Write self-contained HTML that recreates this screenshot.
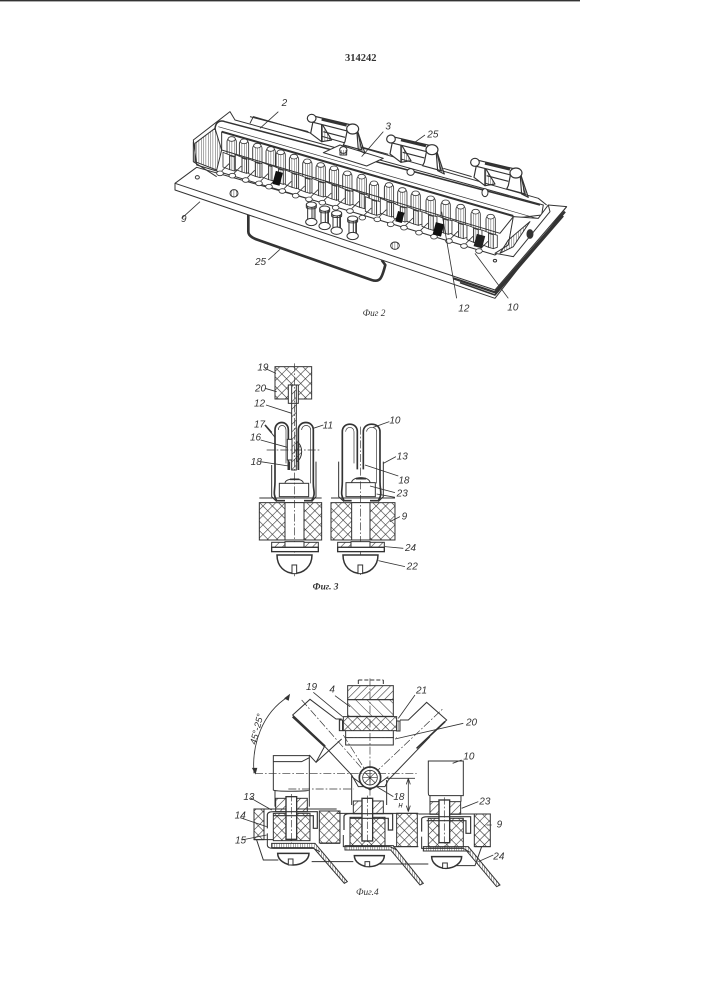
<!DOCTYPE html>
<html><head><meta charset="utf-8"><style>
html,body{margin:0;padding:0;background:#fff;width:707px;height:1000px;overflow:hidden}
svg{display:block;filter:blur(.3px)}
text{font-family:"Liberation Sans",sans-serif;font-style:italic;fill:#333;font-size:30px}
</style></head><body>
<svg width="707" height="1000" viewBox="0 0 707 1000" xmlns="http://www.w3.org/2000/svg">
<defs>
<pattern id="x" width="20" height="20" patternUnits="userSpaceOnUse" patternTransform="rotate(45)"><path d="M0 0H20M0 0V20" stroke="#333" stroke-width="3.5" fill="none"/></pattern>
<pattern id="h" width="16" height="16" patternUnits="userSpaceOnUse" patternTransform="rotate(45)"><path d="M0 0V16" stroke="#333" stroke-width="3.5"/></pattern>
<pattern id="h2" width="24" height="24" patternUnits="userSpaceOnUse" patternTransform="rotate(-45)"><path d="M0 0V24" stroke="#333" stroke-width="3"/></pattern>
<pattern id="d" width="7" height="7" patternUnits="userSpaceOnUse"><path d="M0 0V7" stroke="#333" stroke-width="2.5"/></pattern>
<g id="u" fill="none" stroke="#333" stroke-width="2.5">
<path d="M-14 0C-14-16 14-16 14 0L14 48L-14 40Z" fill="url(#d)"/>
<ellipse cx="0" cy="-8" rx="11" ry="7" fill="#fff"/>
<path d="M-26 32L-6 40L-6 84L-26 76Z" fill="#fff"/>
<path d="M-6 40L8 44L8 88L-6 84Z" fill="url(#d)"/>
<path d="M8 44L20 48V84L8 88Z" fill="#fff"/>
<ellipse cx="-35" cy="95" rx="10" ry="7" fill="#fff"/>
<path d="M-30 88L-8 66"/>
</g>
<g id="p" fill="#fff" stroke="#333" stroke-width="3">
<path d="M-11 -4V46H11V-4Z" fill="#fff"/>
<path d="M2 0V46H11V0Z" fill="url(#d)"/>
<ellipse cx="0" cy="46" rx="17" ry="11"/>
<ellipse cx="0" cy="-6" rx="15" ry="8"/>
<path d="M-15 -6V2C-15 8 15 8 15 2V-6" fill="none"/>
</g>
<g id="h4" stroke="#333" stroke-width="4" fill="#fff">
<rect x="0" y="0" width="32" height="128"/>
<path d="M16-8V140" stroke-dasharray="22 6 5 6" stroke-width="2" fill="none"/>
</g>
<g id="hd" fill="none" stroke="#333" stroke-width="3.5" stroke-linejoin="round">
<path d="M392 130L400 90L425 95L425 155Z" fill="#fff"/><path d="M425 100L425 155L455 150Z" fill="url(#d)"/>
<path d="M495 155L505 105L530 110L545 180L490 165Z" fill="#fff"/><path d="M530 115L555 190L535 180Z" fill="url(#d)"/>
<path d="M400 78L515 105L510 125L395 96Z" fill="#fff"/><path d="M425 88L500 106" stroke-width="8"/>
<ellipse cx="395" cy="85" rx="13" ry="12" fill="#fff"/><ellipse cx="518" cy="117" rx="18" ry="15" fill="#fff"/><path d="M430 125L495 142"/>
</g>
</defs>
<rect width="707" height="1000" fill="#fff"/>
<rect x="0" y="0" width="580" height="1.4" fill="#333"/>
<text x="345" y="61" style="font-family:'Liberation Serif',serif;font-style:normal;font-weight:bold;font-size:10.5px">314242</text>

<!-- FIG 2 -->
<g transform="translate(180 90) scale(.3333)" fill="none" stroke="#333" stroke-width="3" stroke-linejoin="round">
<path d="M205 375V425C205 440 225 447 240 452L575 570C600 578 606 565 616 525L605 510" stroke-width="8"/>
<path d="M-15 280L50 232L1000 500L1105 345L1160 350L945 625L-15 300Z" fill="#fff"/>
<path d="M-15 280L945 600L1160 350" />
<path d="M820 565L945 607L1155 365" stroke-width="7"/>
<path d="M840 578L945 615L1150 378" stroke-width="5"/>
<path d="M40 150L150 65L165 90L1090 345L1085 375L1000 385L985 465L945 495L50 225Z" fill="#fff"/>
<path d="M210 100L220 80L1075 325L1100 345" fill="#fff"/>
<path d="M40 155V215L110 260" />
<path d="M45 160L105 115L125 180L110 240L45 215Z" fill="url(#d)"/>
<path d="M125 125L125 180L960 430L1000 380L1020 385L985 465L945 495" />
<path d="M125 125L1000 378" stroke-width="6"/>
<path d="M105 120C105 95 120 90 135 95L1080 345" stroke-width="4.5"/>
<path d="M115 110L1070 385" stroke-width="2"/>
<use href="#u" x="155" y="155"/><use href="#u" x="192" y="162"/><use href="#u" x="232" y="175"/><use href="#u" x="272" y="185"/><use href="#u" x="302" y="195"/><use href="#u" x="342" y="208"/><use href="#u" x="382" y="222"/><use href="#u" x="422" y="233"/><use href="#u" x="462" y="243"/><use href="#u" x="502" y="258"/><use href="#u" x="545" y="268"/><use href="#u" x="582" y="288"/><use href="#u" x="627" y="293"/><use href="#u" x="667" y="308"/><use href="#u" x="707" y="318"/><use href="#u" x="752" y="333"/><use href="#u" x="797" y="345"/><use href="#u" x="842" y="358"/><use href="#u" x="887" y="373"/><use href="#u" x="932" y="388"/>
<rect x="282" y="245" width="22" height="40" fill="#111" stroke="none" transform="rotate(15 293 265)"/>
<rect x="650" y="365" width="20" height="32" fill="#111" stroke="none" transform="rotate(15 660 380)"/>
<rect x="762" y="400" width="26" height="38" fill="#111" stroke="none" transform="rotate(15 778 420)"/>
<rect x="885" y="435" width="26" height="38" fill="#222" stroke="none" transform="rotate(15 900 455)"/>
<path d="M1000 380L1075 385L1105 345L1110 365L1000 500L945 490L985 465Z" fill="#fff"/>
<path d="M985 450L1050 395L1000 470L960 490Z" fill="url(#d)"/>
<ellipse cx="1050" cy="432" rx="9" ry="13" fill="#333"/>
<ellipse cx="52" cy="262" rx="6" ry="5"/><ellipse cx="945" cy="512" rx="5" ry="4"/>
<ellipse cx="162" cy="310" rx="12" ry="11" fill="url(#d)"/>
<ellipse cx="645" cy="467" rx="13" ry="11" fill="url(#d)"/>
<use href="#p" x="394" y="350"/><use href="#p" x="434" y="362"/><use href="#p" x="470" y="376"/><use href="#p" x="518" y="392"/>
<path d="M430 188L480 165L610 205L560 228Z" fill="#fff"/>
<ellipse cx="490" cy="180" rx="11" ry="10" fill="#fff"/><path d="M480 180V195H500V180" fill="url(#d)"/>
<ellipse cx="692" cy="246" rx="11" ry="10" fill="#fff"/>
<ellipse cx="915" cy="308" rx="9" ry="12" fill="#fff"/>
<path d="M210 80L385 125M540 170L625 193M790 235L875 260"/>
<use href="#hd"/>
<use href="#hd" x="238" y="62"/>
<use href="#hd" x="490" y="132"/>
<g stroke-width="2.5"><path d="M295 65L240 115M610 125L545 200M735 135L700 160M60 335L5 385M300 478L265 510M785 365L830 625M885 490L985 625"/></g>
<g stroke="none">
<text x="305" y="48">2</text><text x="616" y="118">3</text><text x="742" y="143">25</text><text x="3" y="396">9</text><text x="225" y="525">25</text><text x="835" y="665">12</text><text x="982" y="662">10</text>
<text x="548" y="678" style="font-family:'Liberation Serif',serif;font-size:28px">Фиг  2</text>
</g>
</g>

<!-- FIG 3 -->
<g transform="translate(230 350) scale(.3333)" fill="none" stroke="#333" stroke-width="3">
<rect x="135" y="50" width="110" height="97" fill="url(#x)"/>
<rect x="175" y="105" width="30" height="55" fill="#fff"/>
<rect x="185" y="105" width="14" height="255" fill="url(#h)"/>
<rect x="88" y="458" width="187" height="112" fill="url(#x)"/>
<rect x="303" y="458" width="192" height="112" fill="url(#x)"/>
<rect x="165" y="458" width="57" height="112" fill="#fff"/>
<rect x="365" y="458" width="55" height="112" fill="#fff"/>
<path d="M88 444H275M303 444H495"/>
<g stroke-width="5">
<path d="M175 360V240C175 210 135 210 135 240V395C135 425 128 430 140 452H165"/>
<path d="M205 360V240C205 210 250 210 250 240V400C250 425 258 430 245 452H222"/>
</g>
<path d="M125 345V440L140 455M258 335V440L245 455"/>
<path d="M145 240C145 222 168 222 168 240V340M215 240C215 222 242 222 242 240V400" stroke-width="2"/>
<rect x="172" y="268" width="14" height="62" fill="#fff"/>
<path d="M200 275C220 285 220 325 200 335Z" fill="url(#h)"/>
<path d="M110 300H270" stroke-dasharray="24 6 5 6" stroke-width="2"/>
<path d="M178 335V360M205 335V360" stroke-width="5"/>
<rect x="148" y="400" width="88" height="40" fill="#fff"/>
<path d="M165 400C165 382 220 382 220 400"/><path d="M180 388H208" stroke-width="5"/>
<g stroke-width="5">
<path d="M382 358V245C382 215 337 215 337 245V395C337 425 330 430 342 452H365"/>
<path d="M400 358V245C400 215 450 215 450 245V395C450 425 458 430 445 452H420"/>
</g>
<path d="M347 245C347 228 372 228 372 245V340M410 245C410 228 440 228 440 245V400" stroke-width="2"/>
<path d="M326 335V440L342 455M460 335V440L445 455"/>
<rect x="348" y="398" width="88" height="42" fill="#fff"/>
<path d="M365 398C365 378 420 378 420 398"/><path d="M378 386H408" stroke-width="5"/>
<path d="M194 40V680M392 230V680" stroke-dasharray="24 6 5 6" stroke-width="2"/>
<rect x="125" y="577" width="140" height="15" fill="url(#h)"/><rect x="165" y="575" width="57" height="18" fill="#fff"/>
<rect x="125" y="592" width="140" height="13" fill="#fff" stroke-width="4"/>
<path d="M141 615H246C246 650 220 670 193 670C165 670 141 650 141 615Z" fill="#fff" stroke-width="4.5"/>
<rect x="186" y="645" width="14" height="26" fill="#fff"/>
<g transform="translate(198 0)">
<rect x="125" y="577" width="140" height="15" fill="url(#h)"/><rect x="165" y="575" width="57" height="18" fill="#fff"/>
<rect x="125" y="592" width="140" height="13" fill="#fff" stroke-width="4"/>
<path d="M141 615H246C246 650 220 670 193 670C165 670 141 650 141 615Z" fill="#fff" stroke-width="4.5"/>
<rect x="186" y="645" width="14" height="26" fill="#fff"/>
</g>
<g stroke-width="2.5"><path d="M105 55L138 70M105 115L140 125M108 165L185 190M105 225L135 262M92 270L172 292M92 335L176 348M280 225L250 235M478 215L430 232M498 320L460 340M505 378L405 345M495 428L420 408M495 442L440 432M510 500L480 515M520 595L465 590M525 650L445 632"/></g>
<path d="M105 225L125 248" stroke-width="5"/>
<g stroke="none">
<text x="82" y="62">19</text><text x="75" y="124">20</text><text x="72" y="170">12</text><text x="72" y="232">17</text><text x="60" y="272">16</text><text x="62" y="345">18</text><text x="278" y="235">11</text><text x="478" y="220">10</text><text x="500" y="328">13</text><text x="505" y="400">18</text><text x="500" y="440">23</text><text x="515" y="508">9</text><text x="525" y="603">24</text><text x="530" y="658">22</text>
<text x="248" y="718" style="font-family:'Liberation Serif',serif;font-size:28px;font-weight:bold">Фиг. 3</text>
</g>
</g>

<!-- FIG 4 -->
<g transform="translate(230 665) scale(.3333)" fill="none" stroke="#333" stroke-width="3">
<path d="M385 45H460M385 45V62M460 45V62" stroke-dasharray="12 6"/>
<rect x="353" y="62" width="137" height="42" fill="url(#h)"/>
<rect x="353" y="104" width="137" height="50" fill="url(#h2)"/>
<rect x="340" y="155" width="160" height="42" fill="url(#x)"/>
<rect x="328" y="165" width="10" height="32" fill="url(#d)"/><rect x="500" y="168" width="10" height="30" fill="url(#d)"/>
<path d="M347 197V240H490V197M347 218H490" />
<path d="M335 162H318L240 103L188 150L285 242L258 292L238 270"/>
<path d="M188 155L285 245" stroke-width="6"/>
<path d="M510 165H535L590 112L650 165L560 250" />
<path d="M645 170L560 250" stroke-width="5"/>
<path d="M335 222L258 292M285 245L365 330L385 365H465L475 345L600 215"/>
<path d="M365 335L420 375L475 335" />
<path d="M215 105L420 338L640 130M340 210L420 338" stroke-dasharray="24 6 5 6" stroke-width="2"/>
<circle cx="420" cy="338" r="32" fill="#fff" stroke-width="5"/>
<circle cx="420" cy="338" r="22" stroke-width="2.5"/>
<path d="M398 338H442M420 316V360M404 322L436 354M436 322L404 354" stroke-width="2"/>
<path d="M420 40V405M345 218H500" stroke-dasharray="24 6 5 6" stroke-width="2"/>
<path d="M365 330V420M470 345V420"/>
<path d="M130 290V272H238V375C238 380 135 380 130 375ZM130 290H215L238 278"/>
<path d="M135 375V425M238 375V425" />
<path d="M595 288H700V392H600C595 392 595 388 595 380Z"/>
<path d="M600 392V410M693 392V410"/>
<path d="M75 325H560" stroke-dasharray="24 6 5 6" stroke-width="2"/>
<path d="M175 372H370" stroke-dasharray="24 6 5 6" stroke-width="2"/>
<path d="M175 95C95 145 65 240 72 325" stroke-width="2.5"/><path d="M165 100L178 90L175 105ZM68 310L76 325L80 310Z" fill="#333"/>
<path d="M535 340V440M535 340L529 358M535 340L541 358M535 440L529 422M535 440L541 422M470 340H555" stroke-width="2.5"/>
<path d="M72 432H320M320 445H565M565 447H782M72 524H130M270 535H330M490 545H565M735 545H782" stroke-width="3"/>
<rect x="72" y="432" width="30" height="92" fill="url(#x)"/>
<rect x="130" y="445" width="110" height="82" fill="url(#x)"/>
<rect x="268" y="438" width="62" height="96" fill="url(#x)"/>
<rect x="360" y="457" width="105" height="86" fill="url(#x)"/>
<rect x="500" y="445" width="62" height="100" fill="url(#x)"/>
<rect x="595" y="460" width="105" height="86" fill="url(#x)"/>
<rect x="733" y="447" width="48" height="98" fill="url(#x)"/>
<rect x="137" y="400" width="95" height="40" fill="url(#h)"/>
<rect x="370" y="408" width="90" height="38" fill="url(#h)"/>
<rect x="600" y="410" width="92" height="38" fill="url(#h)"/>
<use href="#h4" x="168" y="395"/><use href="#h4" x="396" y="400"/><use href="#h4" x="627" y="405"/>
<path d="M112 490V450C112 442 120 440 130 440H262V490H250V452H130" stroke-width="3.5"/>
<path d="M112 505V540C112 548 120 550 130 550H250L270 560"/>
<path d="M342 495V455C342 448 350 446 360 446H488V495H475V460H360" stroke-width="3.5"/>
<path d="M340 510V545H480L500 555"/>
<path d="M575 500V462C575 456 585 455 595 455H722V505H708V467H590" stroke-width="3.5"/>
<path d="M575 515V550H700L720 562"/>
<path d="M125 535H255L352 650L343 655L250 548H125Z" fill="url(#d)"/>
<path d="M345 542H490L580 655L570 660L482 555H345Z" fill="url(#d)"/>
<path d="M580 545H715L810 660L800 665L710 558H580Z" fill="url(#d)"/>
<path d="M80 525L100 585H145M245 590H370M440 597H595M660 602H735L755 545"/>
<path d="M143 565H237C237 585 215 600 190 600C165 600 143 585 143 565Z" fill="#fff" stroke-width="4.5"/><rect x="175" y="582" width="14" height="18" fill="#fff"/>
<path d="M373 572H463C463 592 440 605 418 605C395 605 373 592 373 572Z" fill="#fff" stroke-width="4.5"/><rect x="405" y="590" width="14" height="15" fill="#fff"/>
<path d="M605 575H695C695 595 672 610 648 610C625 610 605 595 605 575Z" fill="#fff" stroke-width="4.5"/><rect x="638" y="594" width="14" height="16" fill="#fff"/>
<g stroke-width="2.5"><path d="M250 82L338 155M315 92L360 125M555 90L505 160M700 175L495 222M695 285L668 295M745 410L695 430M785 480L770 480M490 395L440 365M60 398L125 435M30 458L110 485M35 525L110 510M790 570L745 590"/></g>
<g stroke="none">
<text x="228" y="75">19</text><text x="298" y="82">4</text><text x="558" y="85">21</text><text x="708" y="182">20</text><text x="700" y="283">10</text><text x="748" y="418">23</text><text x="800" y="488">9</text><text x="790" y="583">24</text><text x="490" y="405">18</text><text x="505" y="428" style="font-size:24px">н</text><text x="40" y="405">13</text><text x="14" y="460">14</text><text x="15" y="535">15</text>
<text transform="translate(78 240) rotate(-76)" style="font-size:28px">45°-25°</text>
<text x="378" y="690" style="font-family:'Liberation Serif',serif;font-size:28px">Фиг.4</text>
</g>
</g>
</svg>
</body></html>
